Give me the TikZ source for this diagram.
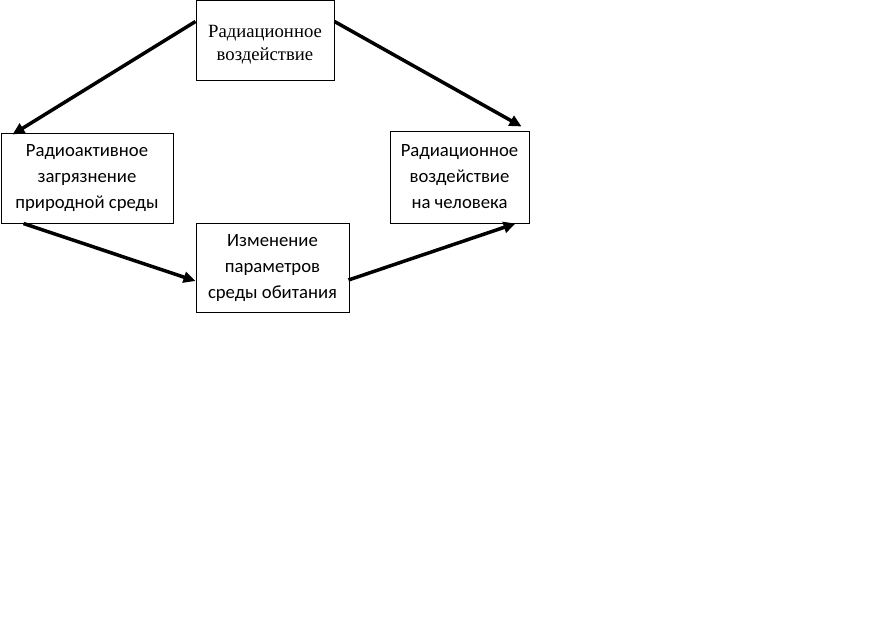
\documentclass[tikz,border=0pt]{standalone}
\usepackage{fontspec}
\newfontfamily\serifru{Liberation Serif}
\newfontfamily\sansru{Carlito}
\usetikzlibrary{arrows.meta,calc}
\tikzset{
  boxS/.style={draw=black, line width=1pt, align=center, inner sep=0pt,
    font=\serifru\fontsize{18.7}{23}\selectfont},
  boxC/.style={draw=black, line width=1pt, align=center, inner sep=0pt,
    font=\sansru\fontsize{18.7}{26}\selectfont},
  txtS/.style={align=center, inner sep=0pt, font=\serifru\fontsize{18.7}{23}\selectfont},
  conn/.style={line width=3.5pt, -{Triangle[length=12pt,width=11pt]}}
}
\begin{document}
\begin{tikzpicture}[x=1pt,y=-1pt]
\useasboundingbox (0,0) rectangle (877,626);
\node[boxS, minimum width=138pt, minimum height=79pt] (top) at (265,40.5) {};
\node[txtS] (toptext) at ($(top.center)+(0,4)$) {Радиационное\\воздействие};
\node[boxC, minimum width=172pt, minimum height=90pt] (left) at (87,178) {Радиоактивное\\загрязнение\\природной среды};
\node[boxC, minimum width=139pt, minimum height=92pt] (right) at (459.5,177) {Радиационное\\воздействие\\на человека};
\node[boxC, minimum width=153pt, minimum height=89pt] (mid) at (272.5,268) {Изменение\\параметров\\среды обитания};
\draw[conn] ($(top.north west)+(0,21)$) -- ($(left.north west)+(12,2)$);
\draw[conn] ($(top.north east)+(0,21)$) -- ($(right.north east)+(-8,-4)$);
\draw[conn] ($(left.south west)+(23,0)$) -- ($(mid.west)+(0,13)$);
\draw[conn] ($(mid.east)+(-1,12)$) -- ($(right.south east)+(-14,0)$);
\end{tikzpicture}
\end{document}
